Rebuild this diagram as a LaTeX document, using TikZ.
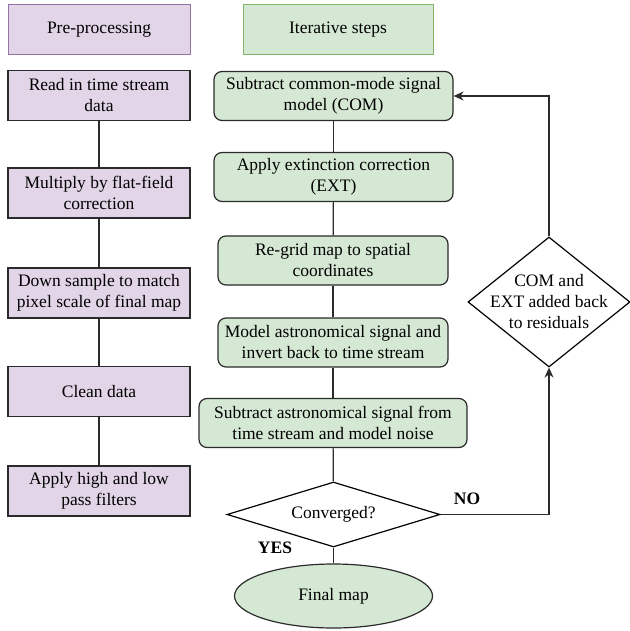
\documentclass[tikz,border=0pt]{standalone}
\usepackage{fontspec}
\setmainfont{Liberation Serif}
\usetikzlibrary{shapes.geometric,arrows.meta}
\definecolor{pfill}{HTML}{E1D5E7}
\definecolor{pline}{HTML}{9673A6}
\definecolor{gfill}{HTML}{D5E8D4}
\definecolor{gline}{HTML}{82B366}
\definecolor{dline}{HTML}{2B2B2B}
\tikzset{
  txt/.style={font=\fontsize{17.5}{21}\selectfont, align=center, inner sep=0pt},
  header/.style={txt, draw, line width=1pt},
  pbox/.style={txt, draw=dline, fill=pfill, line width=1.2pt, minimum width=182pt, minimum height=50pt},
  gbox/.style={txt, draw=dline, fill=gfill, line width=1.2pt, rounded corners=8pt, minimum height=49pt},
  decision/.style={txt, diamond, draw=black, fill=white, line width=1.2pt, aspect=3},
  conn/.style={draw=dline, line width=1.2pt},
  arr/.style={conn, -{Stealth[length=10pt,width=9pt]}},
  lbl/.style={font=\fontsize{17.5}{21}\selectfont\bfseries, inner sep=0pt}
}
\begin{document}
\begin{tikzpicture}[x=1pt,y=-1pt]
\useasboundingbox[fill=white] (0,0) rectangle (629,631);
% headers
\node[header, draw=pline, fill=pfill, minimum width=182pt, minimum height=50pt] (hpre) at (99,30) {Pre-processing};
\node[header, draw=gline, fill=gfill, minimum width=190pt, minimum height=50pt] (hit) at (338,30) {Iterative steps};
% left column
\node[pbox] (l1) at (99,95.5) {Read in time stream\\data};
\node[pbox] (l2) at (99,193) {Multiply by flat-field\\correction};
\node[pbox] (l3) at (99,293) {Down sample to match\\pixel scale of final map};
\node[pbox] (l4) at (99,391.5) {Clean data};
\node[pbox] (l5) at (99,491) {Apply high and low\\pass filters};
\draw[conn] (l1) -- (l2);
\draw[conn] (l2) -- (l3);
\draw[conn] (l3) -- (l4);
\draw[conn] (l4) -- (l5);
% right column
\node[gbox, minimum width=239pt] (g1) at (333.5,96) {Subtract common-mode signal\\model (COM)};
\node[gbox, minimum width=239pt] (g2) at (333.5,177) {Apply extinction correction\\(EXT)};
\node[gbox, minimum width=230pt] (g3) at (333,260.5) {Re-grid map to spatial\\coordinates};
\node[gbox, minimum width=230pt] (g4) at (333,342.5) {Model astronomical signal and\\invert back to time stream};
\node[gbox, minimum width=268pt] (g5) at (333,423) {Subtract astronomical signal from\\time stream and model noise};
\node[decision, minimum width=213pt, minimum height=65pt] (conv) at (333.5,514.5) {Converged?};
\node[txt, ellipse, draw=dline, fill=gfill, line width=1.2pt, minimum width=198pt, minimum height=64pt] (final) at (333.5,596) {Final map};
\node[decision, aspect=1.25, minimum width=162pt, minimum height=130pt] (back) at (549,302) {};
\node[txt] (backtxt) at (back.center) {COM and\\EXT added back\\to residuals};
\draw[conn] (g1) -- (g2);
\draw[conn] (g2) -- (g3);
\draw[conn] (g3) -- (g4);
\draw[conn] (g4) -- (g5);
\draw[conn] (g5) -- (conv);
\draw[conn] (conv) -- (final);
\draw[arr] (conv.east) -| (back.south);
\draw[arr] (back.north) |- (g1.east);
\node[lbl] (yes) at (275,548) {YES};
\node[lbl] (no) at (467,499) {NO};
\end{tikzpicture}
\end{document}
